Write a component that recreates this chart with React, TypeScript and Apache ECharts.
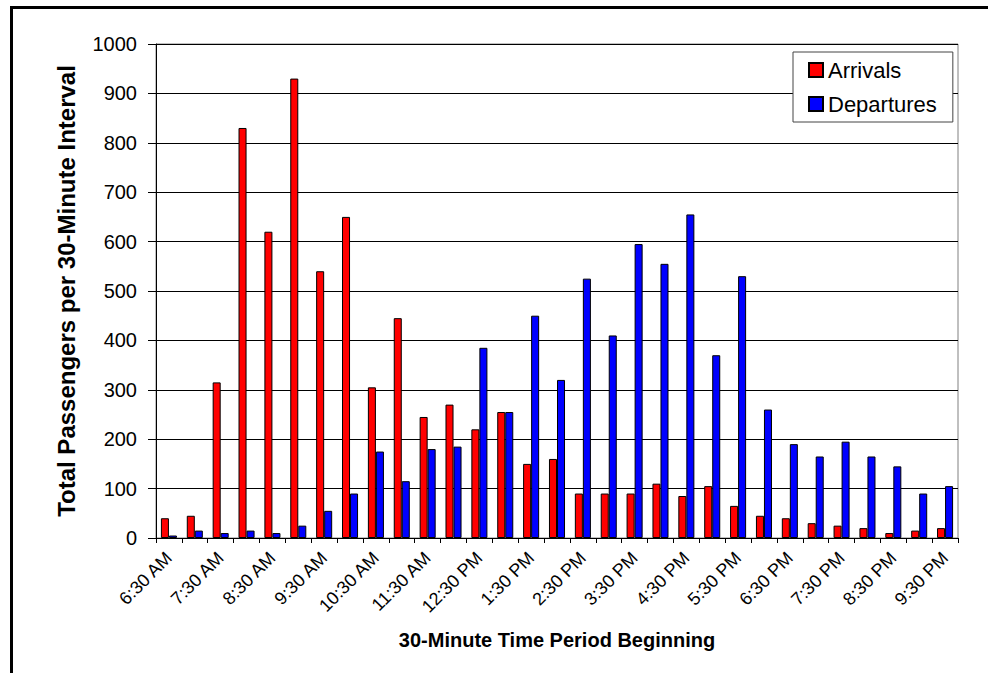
import React, { useEffect, useRef } from "react";
import * as echarts from "echarts";

const categories = [
  "6:30 AM", "7:00 AM", "7:30 AM", "8:00 AM", "8:30 AM", "9:00 AM", "9:30 AM", "10:00 AM",
  "10:30 AM", "11:00 AM", "11:30 AM", "12:00 PM", "12:30 PM", "1:00 PM", "1:30 PM", "2:00 PM",
  "2:30 PM", "3:00 PM", "3:30 PM", "4:00 PM", "4:30 PM", "5:00 PM", "5:30 PM", "6:00 PM",
  "6:30 PM", "7:00 PM", "7:30 PM", "8:00 PM", "8:30 PM", "9:00 PM", "9:30 PM",
];

const arrivals = [
  40, 45, 315, 830, 620, 930, 540, 650, 305, 445, 245, 270, 220, 255, 150, 160,
  90, 90, 90, 110, 85, 105, 65, 45, 40, 30, 25, 20, 10, 15, 20,
];

const departures = [
  5, 15, 10, 15, 10, 25, 55, 90, 175, 115, 180, 185, 385, 255, 450, 320,
  525, 410, 595, 555, 655, 370, 530, 260, 190, 165, 195, 165, 145, 90, 105,
];

const FONT = '"Liberation Sans", Arial, Helvetica, sans-serif';

export default function App() {
  const ref = useRef<HTMLDivElement>(null);

  useEffect(() => {
    if (!ref.current) return;
    const chart = echarts.init(ref.current, null, { renderer: "svg" });
    chart.setOption({
      animation: false,
      backgroundColor: "#ffffff",
      textStyle: { fontFamily: FONT, color: "#000" },
      grid: {
        left: 156,
        top: 44,
        right: 30,
        bottom: 135,
        show: true,
        borderColor: "#808080",
        borderWidth: 1,
        backgroundColor: "transparent",
      },
      legend: {
        left: 793,
        top: 52,
        orient: "vertical",
        itemWidth: 14,
        itemHeight: 14,
        itemGap: 8,
        padding: [5, 16, 5, 15],
        backgroundColor: "#ffffff",
        borderColor: "#444",
        borderWidth: 1,
        textStyle: { fontSize: 22, fontFamily: FONT, color: "#000", lineHeight: 26 },
        data: [
          { name: "Arrivals", icon: "rect" },
          { name: "Departures", icon: "rect" },
        ],
      },
      xAxis: {
        type: "category",
        data: categories,
        name: "30-Minute Time Period Beginning",
        nameLocation: "middle",
        nameGap: 92,
        nameTextStyle: { fontSize: 20, fontWeight: "bold", fontFamily: FONT, color: "#000" },
        axisLine: { lineStyle: { color: "#000", width: 1 } },
        axisTick: { show: true, interval: 0, length: 5, lineStyle: { color: "#000" } },
        axisLabel: {
          interval: 1,
          rotate: 45,
          fontSize: 18,
          margin: 17,
          color: "#000",
          fontFamily: FONT,
        },
        splitLine: { show: false },
      },
      yAxis: {
        type: "value",
        min: 0,
        max: 1000,
        interval: 100,
        name: "Total Passengers per 30-Minute Interval",
        nameLocation: "middle",
        nameGap: 78,
        nameTextStyle: { fontSize: 24, fontWeight: "bold", fontFamily: FONT, color: "#000" },
        axisLine: { show: true, lineStyle: { color: "#000", width: 1 } },
        axisTick: { show: true, length: 8, lineStyle: { color: "#000" } },
        axisLabel: {
          fontSize: 20,
          margin: 19,
          color: "#000",
          fontFamily: FONT,
          formatter: (v: number) => String(v),
        },
        splitLine: { show: true, lineStyle: { color: "#000", width: 1 } },
      },
      series: [
        {
          name: "Arrivals",
          type: "bar",
          data: arrivals,
          barGap: "0%",
          barCategoryGap: "38%",
          itemStyle: { color: "#ff0000", borderColor: "#000", borderWidth: 1 },
        },
        {
          name: "Departures",
          type: "bar",
          data: departures,
          barGap: "0%",
          barCategoryGap: "38%",
          itemStyle: { color: "#0000ff", borderColor: "#000", borderWidth: 1 },
        },
      ],
      graphic: [
        {
          type: "rect",
          shape: { x: 11.5, y: 7.5, width: 1000, height: 700 },
          style: { fill: "none", stroke: "#000", lineWidth: 3 },
          silent: true,
        },
      ],
    });
    return () => chart.dispose();
  }, []);

  return (
    <div
      ref={ref}
      style={{ position: "fixed", left: 0, top: 0, width: 988, height: 673 }}
    />
  );
}
